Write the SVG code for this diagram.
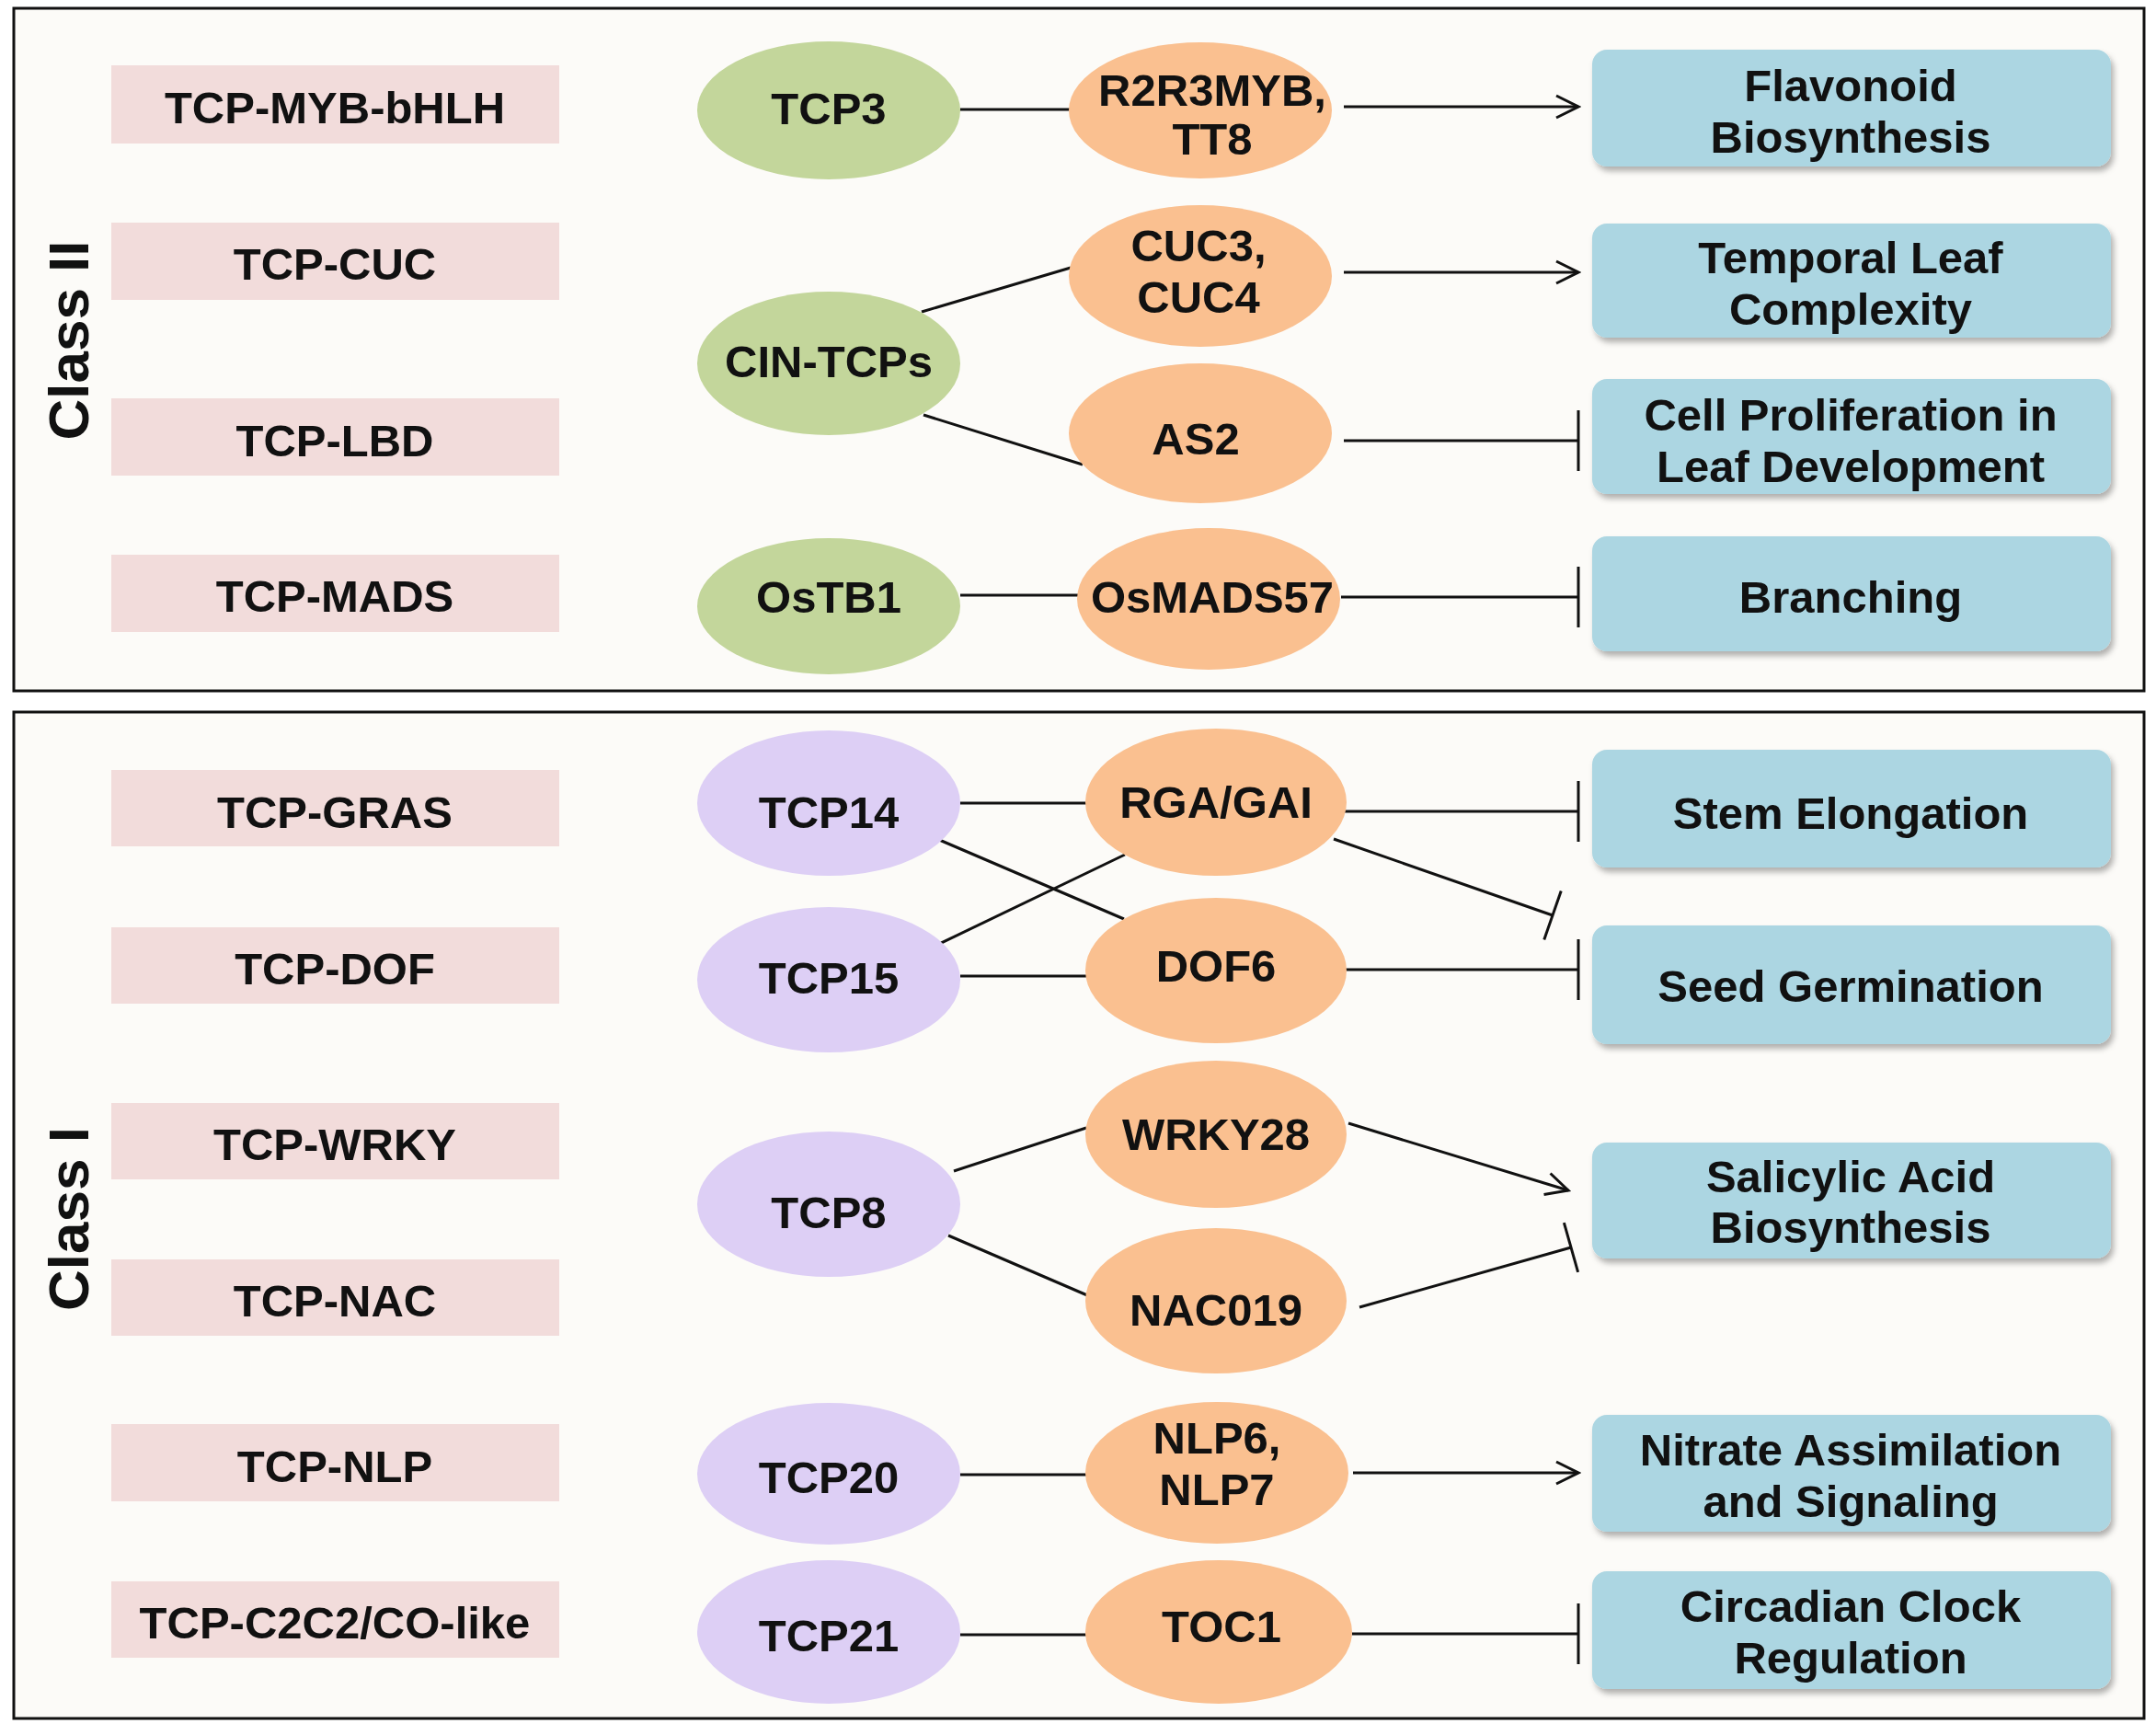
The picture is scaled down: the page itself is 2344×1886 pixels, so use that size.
<svg xmlns="http://www.w3.org/2000/svg" width="2344" height="1886" viewBox="0 0 2344 1886">
<defs>
<style>
.frame{fill:#fcfbf8;stroke:#111;stroke-width:3}
.pink{fill:#f2dcdb}
.green{fill:#c3d69b}
.orange{fill:#fac090}
.purple{fill:#ddcff5}
.blue{fill:#acd6e2;filter:url(#sh)}
text{font-family:"Liberation Sans",Arial,sans-serif;font-weight:bold;font-size:49px;fill:#111;text-anchor:middle}
.cls{font-size:62px}
.ln{stroke:#111;stroke-width:3;fill:none}
.ar{marker-end:url(#arrow)}
.tb{marker-end:url(#tbar)}
.ts{marker-end:url(#tbars)}
</style>
<filter id="sh" x="-5%" y="-10%" width="115%" height="135%">
<feDropShadow dx="3" dy="5" stdDeviation="3" flood-color="#000" flood-opacity="0.3"/>
</filter>
<marker id="arrow" markerUnits="userSpaceOnUse" viewBox="0 0 30 30" markerWidth="30" markerHeight="30" refX="27" refY="15" orient="auto">
<path d="M3,3 L27,15 L3,27" fill="none" stroke="#111" stroke-width="3"/>
</marker>
<marker id="tbar" markerUnits="userSpaceOnUse" viewBox="0 0 10 70" markerWidth="10" markerHeight="70" refX="5" refY="35" orient="auto">
<path d="M5,2 L5,68" stroke="#111" stroke-width="3"/>
</marker>
<marker id="tbars" markerUnits="userSpaceOnUse" viewBox="0 0 10 60" markerWidth="10" markerHeight="60" refX="5" refY="30" orient="auto">
<path d="M5,2 L5,58" stroke="#111" stroke-width="3"/>
</marker>
</defs>
<rect width="2344" height="1886" fill="#ffffff"/>
<rect id="frame-class2" class="frame" x="15" y="9" width="2316" height="742"/>
<rect id="frame-class1" class="frame" x="15" y="774" width="2316" height="1094"/>

<text id="label-class2" class="cls" transform="translate(96,370) rotate(-90)">Class II</text>
<text id="label-class1" class="cls" transform="translate(96,1325) rotate(-90)">Class I</text>

<g id="connectors">
<line class="ln" x1="1044" y1="119" x2="1163" y2="119"/>
<line class="ln" x1="1002" y1="339" x2="1164" y2="291"/>
<line class="ln" x1="1004" y1="451" x2="1177" y2="505"/>
<line class="ln" x1="1044" y1="647" x2="1172" y2="647"/>
<line class="ln ar" x1="1461" y1="116" x2="1716" y2="116"/>
<line class="ln ar" x1="1461" y1="296" x2="1716" y2="296"/>
<line class="ln tb" x1="1461" y1="479" x2="1716" y2="479"/>
<line class="ln tb" x1="1458" y1="649" x2="1716" y2="649"/>

<line class="ln" x1="1044" y1="873" x2="1181" y2="873"/>
<line class="ln" x1="1019" y1="912" x2="1222" y2="999"/>
<line class="ln" x1="1015" y1="1029" x2="1223" y2="929"/>
<line class="ln" x1="1044" y1="1061" x2="1181" y2="1061"/>
<line class="ln" x1="1037" y1="1273" x2="1181" y2="1226"/>
<line class="ln" x1="1031" y1="1343" x2="1182" y2="1408"/>
<line class="ln" x1="1044" y1="1603" x2="1181" y2="1603"/>
<line class="ln" x1="1044" y1="1777" x2="1181" y2="1777"/>
<line class="ln tb" x1="1462" y1="882" x2="1716" y2="882"/>
<line class="ln ts" x1="1450" y1="912" x2="1688" y2="995"/>
<line class="ln tb" x1="1462" y1="1054" x2="1716" y2="1054"/>
<line class="ln ar" x1="1466" y1="1221" x2="1705" y2="1294"/>
<line class="ln ts" x1="1478" y1="1421" x2="1708" y2="1356"/>
<line class="ln ar" x1="1471" y1="1601" x2="1716" y2="1601"/>
<line class="ln tb" x1="1470" y1="1776" x2="1716" y2="1776"/>
</g>

<g id="pink-myb"><rect class="pink" x="121" y="71" width="487" height="85"/><text x="364" y="134">TCP-MYB-bHLH</text></g>
<g id="pink-cuc"><rect class="pink" x="121" y="242" width="487" height="84"/><text x="364" y="304">TCP-CUC</text></g>
<g id="pink-lbd"><rect class="pink" x="121" y="433" width="487" height="84"/><text x="364" y="496">TCP-LBD</text></g>
<g id="pink-mads"><rect class="pink" x="121" y="603" width="487" height="84"/><text x="364" y="665">TCP-MADS</text></g>
<g id="pink-gras"><rect class="pink" x="121" y="837" width="487" height="83"/><text x="364" y="900">TCP-GRAS</text></g>
<g id="pink-dof"><rect class="pink" x="121" y="1008" width="487" height="83"/><text x="364" y="1070">TCP-DOF</text></g>
<g id="pink-wrky"><rect class="pink" x="121" y="1199" width="487" height="83"/><text x="364" y="1261">TCP-WRKY</text></g>
<g id="pink-nac"><rect class="pink" x="121" y="1369" width="487" height="83"/><text x="364" y="1431">TCP-NAC</text></g>
<g id="pink-nlp"><rect class="pink" x="121" y="1548" width="487" height="84"/><text x="364" y="1611">TCP-NLP</text></g>
<g id="pink-c2c2"><rect class="pink" x="121" y="1719" width="487" height="83"/><text x="364" y="1781">TCP-C2C2/CO-like</text></g>

<g id="tcp3"><ellipse class="green" cx="901" cy="120" rx="143" ry="75"/><text x="901" y="135">TCP3</text></g>
<g id="cin-tcps"><ellipse class="green" cx="901" cy="395" rx="143" ry="78"/><text x="901" y="410">CIN-TCPs</text></g>
<g id="ostb1"><ellipse class="green" cx="901" cy="659" rx="143" ry="74"/><text x="901" y="666">OsTB1</text></g>

<g id="r2r3myb"><ellipse class="orange" cx="1305" cy="120" rx="143" ry="74"/><text x="1318" y="115">R2R3MYB,</text><text x="1318" y="168">TT8</text></g>
<g id="cuc34"><ellipse class="orange" cx="1305" cy="300" rx="143" ry="77"/><text x="1303" y="284">CUC3,</text><text x="1303" y="340">CUC4</text></g>
<g id="as2"><ellipse class="orange" cx="1305" cy="471" rx="143" ry="76"/><text x="1300" y="494">AS2</text></g>
<g id="osmads57"><ellipse class="orange" cx="1314" cy="651" rx="143" ry="77"/><text x="1318" y="666">OsMADS57</text></g>

<g id="tcp14"><ellipse class="purple" cx="901" cy="873" rx="143" ry="79"/><text x="901" y="900">TCP14</text></g>
<g id="tcp15"><ellipse class="purple" cx="901" cy="1065" rx="143" ry="79"/><text x="901" y="1080">TCP15</text></g>
<g id="tcp8"><ellipse class="purple" cx="901" cy="1309" rx="143" ry="79"/><text x="901" y="1335">TCP8</text></g>
<g id="tcp20"><ellipse class="purple" cx="901" cy="1602" rx="143" ry="77"/><text x="901" y="1623">TCP20</text></g>
<g id="tcp21"><ellipse class="purple" cx="901" cy="1774" rx="143" ry="78"/><text x="901" y="1795">TCP21</text></g>

<g id="rga-gai"><ellipse class="orange" cx="1322" cy="872" rx="142" ry="80"/><text x="1322" y="889">RGA/GAI</text></g>
<g id="dof6"><ellipse class="orange" cx="1322" cy="1055" rx="142" ry="79"/><text x="1322" y="1067">DOF6</text></g>
<g id="wrky28"><ellipse class="orange" cx="1322" cy="1233" rx="142" ry="80"/><text x="1322" y="1250">WRKY28</text></g>
<g id="nac019"><ellipse class="orange" cx="1322" cy="1414" rx="142" ry="79"/><text x="1322" y="1441">NAC019</text></g>
<g id="nlp67"><ellipse class="orange" cx="1323" cy="1601" rx="143" ry="77"/><text x="1323" y="1580">NLP6,</text><text x="1323" y="1636">NLP7</text></g>
<g id="toc1"><ellipse class="orange" cx="1325" cy="1774" rx="145" ry="78"/><text x="1328" y="1785">TOC1</text></g>

<g id="flavonoid"><rect class="blue" x="1731" y="54" width="564" height="127" rx="16"/><text x="2012" y="110">Flavonoid</text><text x="2012" y="166">Biosynthesis</text></g>
<g id="temporal"><rect class="blue" x="1731" y="243" width="564" height="124" rx="16"/><text x="2012" y="297">Temporal Leaf</text><text x="2012" y="353">Complexity</text></g>
<g id="cellprolif"><rect class="blue" x="1731" y="412" width="564" height="125" rx="16"/><text x="2012" y="468">Cell Proliferation in</text><text x="2012" y="524">Leaf Development</text></g>
<g id="branching"><rect class="blue" x="1731" y="583" width="564" height="125" rx="16"/><text x="2012" y="666">Branching</text></g>
<g id="stem"><rect class="blue" x="1731" y="815" width="564" height="128" rx="16"/><text x="2012" y="901">Stem Elongation</text></g>
<g id="seed"><rect class="blue" x="1731" y="1006" width="564" height="129" rx="16"/><text x="2012" y="1089">Seed Germination</text></g>
<g id="salicylic"><rect class="blue" x="1731" y="1242" width="564" height="126" rx="16"/><text x="2012" y="1296">Salicylic Acid</text><text x="2012" y="1351">Biosynthesis</text></g>
<g id="nitrate"><rect class="blue" x="1731" y="1538" width="564" height="127" rx="16"/><text x="2012" y="1593">Nitrate Assimilation</text><text x="2012" y="1649">and Signaling</text></g>
<g id="circadian"><rect class="blue" x="1731" y="1708" width="564" height="128" rx="16"/><text x="2012" y="1763">Circadian Clock</text><text x="2012" y="1819">Regulation</text></g>
</svg>
